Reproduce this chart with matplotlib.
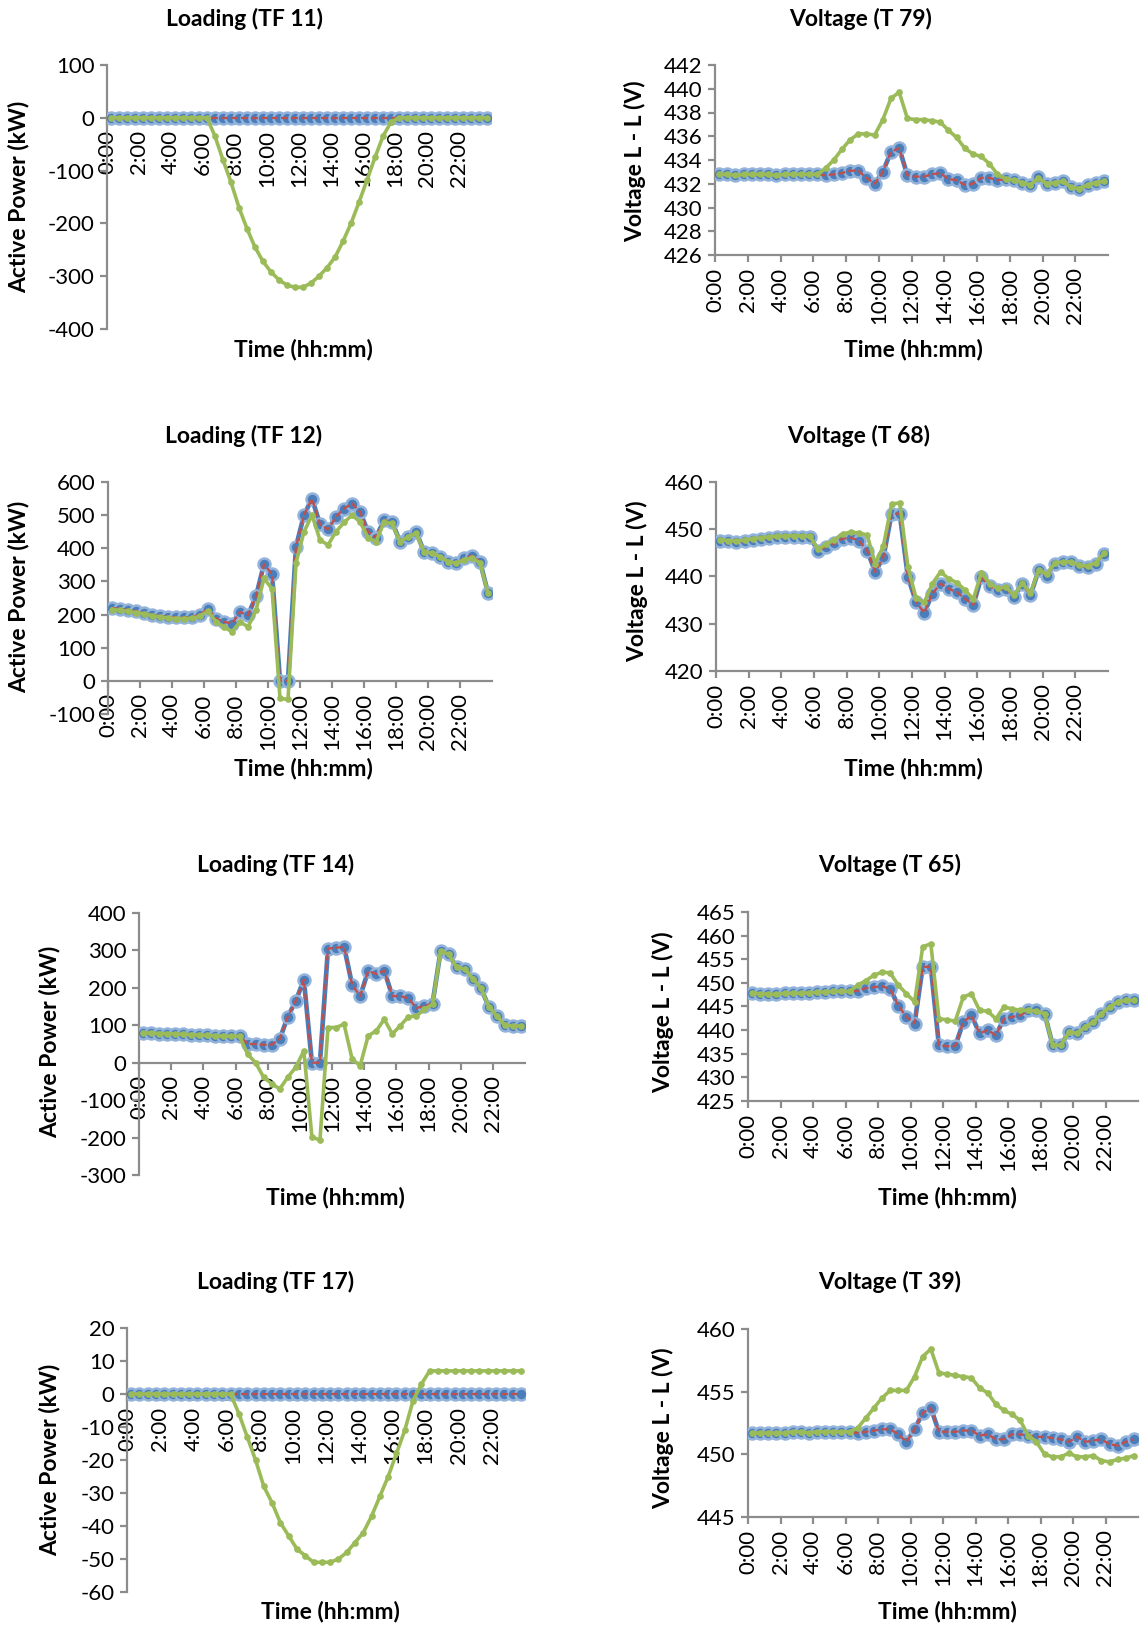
import matplotlib
matplotlib.use("Agg")
import matplotlib.pyplot as plt
import numpy as np

plt.rcParams['font.family'] = ['Lato', 'DejaVu Sans']
plt.rcParams['axes.unicode_minus'] = False
plt.rcParams['lines.scale_dashes'] = False

W, H = 1144, 1627

# half-hour slots 0:00 .. 23:30
slots = list(range(48))
time_labels = ["0:00", "2:00", "4:00", "6:00", "8:00", "10:00",
               "12:00", "14:00", "16:00", "18:00", "20:00", "22:00"]

# ---- Loading (TF 11), kW ----
tf11_blue = [0, 0, 0, 0, 0, 0, 0, 0, 0, 0, 0, 0, 0, 0, 0, 0, 0, 0, 0, 0, 0, 0, 0, 0,
             0, 0, 0, 0, 0, 0, 0, 0, 0, 0, 0, 0, 0, 0, 0, 0, 0, 0, 0, 0, 0, 0, 0, 0]
tf11_red = [0, 0, 0, 0, 0, 0, 0, 0, 0, 0, 0, 0, 0, 0, 0, 0, 0, 0, 0, 0, 0, 0, 0, 0,
            0, 0, 0, 0, 0, 0, 0, 0, 0, 0, 0, 0, 0, 0, 0, 0, 0, 0, 0, 0, 0, 0, 0, 0]
tf11_green = [0, 0, 0, 0, 0, 0, 0, 0, 0, 0, 0, 0, 0,
              -35, -80, -122, -170, -210, -245, -272, -292, -307, -317, -321, -321,
              -313, -300, -284, -264, -234, -200, -160, -118, -75, -35, -8,
              0, 0, 0, 0, 0, 0, 0, 0, 0, 0, 0, 0]

# ---- Voltage (T 79), V ----
t79_blue = [432.8, 432.8, 432.7, 432.8, 432.8, 432.8, 432.8, 432.7, 432.8, 432.8, 432.8, 432.8, 432.8,
            432.7, 432.8, 432.9, 433.1, 433.1, 432.5, 432.0, 433.0, 434.7, 435.0, 432.7, 432.6,
            432.6, 432.8, 432.9, 432.4, 432.3, 431.9, 432.0, 432.5, 432.5, 432.3, 432.4, 432.3,
            432.1, 431.9, 432.6, 432.0, 432.1, 432.2, 431.7, 431.6, 431.9, 432.1, 432.2]
t79_red = list(t79_blue)
t79_green = [432.8, 432.8, 432.7, 432.8, 432.8, 432.8, 432.8, 432.7, 432.8, 432.8, 432.8, 432.8, 432.8,
             433.3, 434.0, 434.9, 435.7, 436.2, 436.2, 436.1, 437.4, 439.2, 439.7, 437.5, 437.4,
             437.4, 437.3, 437.2, 436.5, 435.9, 435.0, 434.5, 434.3, 433.7, 432.8, 432.4, 432.3,
             432.1, 431.9, 432.5, 432.0, 432.1, 432.2, 431.7, 431.6, 431.9, 432.1, 432.2]

# ---- Loading (TF 12), kW ----
tf12_blue = [220, 217, 214, 210, 205, 200, 196, 193, 192, 192, 193, 200, 218,
             188, 178, 173, 208, 198, 255, 352, 322, 0, 0, 405, 500, 550, 472, 457,
             495, 520, 535, 510, 450, 432, 485, 480, 420, 435, 450, 390, 386, 375,
             360, 355, 370, 378, 360, 265]
tf12_red = list(tf12_blue)
tf12_green = [215, 213, 210, 206, 202, 197, 193, 190, 188, 188, 189, 195, 211,
              178, 163, 148, 178, 163, 213, 309, 278, -53, -56, 356, 450, 500, 425, 410,
              450, 478, 500, 480, 432, 420, 478, 475, 420, 435, 445, 390, 385, 375,
              360, 355, 365, 372, 355, 265]

# ---- Voltage (T 68), V ----
t68_blue = [447.6, 447.5, 447.3, 447.5, 447.8, 448.0, 448.2, 448.3, 448.4, 448.4, 448.4, 448.3,
            445.5, 446.3, 447.0, 448.0, 448.2, 447.6, 445.5, 441.0, 444.1, 453.3,
            453.3, 439.9, 434.6, 432.3, 436.4, 438.5, 437.4, 436.7, 435.3, 434.0,
            439.9, 437.9, 437.1, 437.4, 435.7, 438.5, 436.0, 441.3, 440.2, 442.7,
            443.1, 443.1, 442.2, 442.0, 442.7, 444.8]
t68_red = list(t68_blue)
t68_green = [447.8, 447.6, 447.5, 447.7, 448.0, 448.2, 448.4, 448.5, 448.6, 448.6, 448.6, 448.5,
             445.8, 446.8, 447.8, 449.0, 449.4, 449.2, 448.8, 442.7, 446.5, 455.3,
             455.6, 442.0, 435.4, 434.5, 438.5, 441.0, 439.5, 438.7, 437.1, 435.2,
             440.8, 438.5, 437.5, 437.8, 436.0, 438.6, 436.5, 441.3, 440.5, 442.9,
             443.1, 443.1, 442.4, 442.2, 442.9, 444.9]

# ---- Loading (TF 14), kW ----
tf14_blue = [80, 79, 78, 78, 77, 76, 75, 74, 73, 72, 71, 71, 71,
             50, 50, 48, 48, 63, 123, 165, 222, 0, 0, 305, 307, 310,
             208, 178, 245, 237, 246, 178, 178, 172, 146, 152, 158,
             298, 290, 255, 250, 225, 200, 150, 125, 100, 98, 98]
tf14_red = list(tf14_blue)
tf14_green = [80, 79, 78, 78, 77, 76, 75, 74, 73, 72, 71, 71, 71,
              23, 0, -39, -56, -70, -39, -12, 32, -198, -207, 94, 94, 103,
              10, -8, 72, 85, 116, 77, 99, 123, 125, 143, 156,
              298, 290, 255, 250, 225, 200, 150, 125, 100, 98, 98]

# ---- Voltage (T 65), V ----
t65_blue = [447.8, 447.7, 447.6, 447.6, 447.8, 447.8, 447.8, 447.9, 448.0, 448.1, 448.2, 448.2, 448.2,
            448.3, 448.9, 449.1, 449.3, 448.7, 445.2, 442.8, 441.4, 453.4, 453.4,
            436.8, 436.6, 436.6, 441.7, 443.1, 439.3, 440.0, 438.9, 442.4, 442.8,
            443.1, 444.2, 444.2, 443.5, 436.8, 436.8, 439.6, 439.3, 440.7, 441.7,
            443.5, 444.9, 446.0, 446.3, 446.3]
t65_red = list(t65_blue)
t65_green = [447.8, 447.7, 447.6, 447.6, 447.8, 447.8, 447.8, 447.9, 448.0, 448.1, 448.2, 448.2, 448.2,
             449.5, 450.5, 451.6, 452.3, 452.1, 449.5, 447.7, 446.0, 457.6, 458.3,
             442.4, 442.2, 441.9, 447.0, 447.7, 444.2, 444.0, 442.4, 444.9, 444.5,
             444.2, 444.2, 444.0, 443.5, 436.8, 436.8, 439.6, 439.3, 440.7, 441.7,
             443.5, 444.9, 446.0, 446.3, 446.3]

# ---- Loading (TF 17), kW ----
tf17_blue = [0, 0, 0, 0, 0, 0, 0, 0, 0, 0, 0, 0, 0, 0, 0, 0, 0, 0, 0, 0, 0, 0, 0, 0,
             0, 0, 0, 0, 0, 0, 0, 0, 0, 0, 0, 0, 0, 0, 0, 0, 0, 0, 0, 0, 0, 0, 0, 0]
tf17_red = list(tf17_blue)
tf17_green = [0, 0, 0, 0, 0, 0, 0, 0, 0, 0, 0, 0, 0,
              -6, -13, -20, -28, -33, -39, -43, -47, -49, -51, -51, -51,
              -50, -48, -45, -42, -37, -31, -25, -18, -11, -2, 3,
              7, 7, 7, 7, 7, 7, 7, 7, 7, 7, 7, 7]

# ---- Voltage (T 39), V ----
t39_blue = [451.7, 451.7, 451.7, 451.7, 451.7, 451.8, 451.8, 451.7, 451.8, 451.8, 451.8, 451.8, 451.8,
            451.7, 451.8, 451.9, 452.0, 452.0, 451.6, 451.0, 452.0, 453.3, 453.7,
            451.8, 451.8, 451.8, 451.9, 451.9, 451.5, 451.6, 451.2, 451.2, 451.6,
            451.6, 451.5, 451.4, 451.4, 451.3, 451.2, 451.0, 451.4, 451.0, 451.1,
            451.2, 450.8, 450.7, 451.0, 451.2]
t39_red = list(t39_blue)
t39_green = [451.7, 451.7, 451.7, 451.7, 451.7, 451.8, 451.8, 451.7, 451.8, 451.8, 451.8, 451.8, 451.8,
             452.1, 452.9, 453.7, 454.5, 455.1, 455.1, 455.1, 456.2, 457.8, 458.4,
             456.5, 456.4, 456.3, 456.2, 456.1, 455.3, 454.9, 454.0, 453.5, 453.2,
             452.7, 451.5, 451.0, 450.0, 449.8, 449.8, 450.1, 449.8, 449.8, 449.9,
             449.5, 449.4, 449.6, 449.7, 449.9]

BLUE = '#4A7EBB'
BLUE_EDGE = '#93B3DB'
RED = '#C0504D'
GREEN = '#9BBB59'
AXIS = '#8C8C8C'
FS_TICK = 16
FS_TEXT = 16.5

fig = plt.figure(figsize=(W / 100, H / 100), dpi=100)


def fx(x):
    return x / W


def fy(y):
    return 1 - y / H


def panel(rect, blue, red, green, ylim, ystep, zero_axis,
          title, title_xy, ylabel, ylabel_xy, xlabel_xy):
    left, right, top, bottom = rect
    ax = fig.add_axes([fx(left), fy(bottom), (right - left) / W, (bottom - top) / H])
    ax.patch.set_alpha(0)
    for side in ('top', 'right'):
        ax.spines[side].set_visible(False)
    for side in ('left', 'bottom'):
        ax.spines[side].set_color(AXIS)
        ax.spines[side].set_linewidth(1.6)
    if zero_axis:
        # horizontal axis crosses the vertical one at zero
        ax.spines['bottom'].set_position(('data', 0))

    xs = [s + 0.5 for s in slots]
    ax.plot(xs, blue, color=BLUE, lw=3.4, marker='o', ms=8.6, mfc=BLUE,
            mec=BLUE_EDGE, mew=1.8, zorder=3, solid_joinstyle='round')
    ax.plot(xs, red, color=RED, lw=1.7, dashes=(5, 2.2), zorder=4)
    ax.plot(xs, green, color=GREEN, lw=2.6, marker='o', ms=3.8, mfc=GREEN,
            mec=GREEN, zorder=5, solid_joinstyle='round')
    ax.set_xlim(0, 48)
    ax.set_ylim(*ylim)
    yt = np.arange(ylim[0], ylim[1] + ystep / 2, ystep)
    ax.set_yticks(yt)
    ax.set_yticklabels([str(int(v)) for v in yt])
    ax.set_xticks(list(range(0, 48, 4)))
    ax.set_xticklabels(time_labels)
    ax.tick_params(axis='both', direction='out', length=5, width=1.6,
                   color=AXIS, labelsize=FS_TICK, labelcolor='black', pad=4)
    ax.tick_params(axis='x', labelrotation=90)
    fig.text(fx(title_xy[0]), fy(title_xy[1]), title, ha='center', va='center',
             fontsize=FS_TEXT, fontweight='bold')
    fig.text(fx(ylabel_xy[0]), fy(ylabel_xy[1]), ylabel, ha='center', va='center',
             rotation=90, fontsize=FS_TEXT, fontweight='bold')
    fig.text(fx(xlabel_xy[0]), fy(xlabel_xy[1]), "Time (hh:mm)", ha='center',
             va='center', fontsize=FS_TEXT, fontweight='bold')
    return ax


POWER = "Active Power (kW)"
VOLT = "Voltage L - L (V)"

panel((107, 491, 65, 329), tf11_blue, tf11_red, tf11_green, (-400, 100), 100, True,
      "Loading (TF 11)", (244, 19), POWER, (19, 197), (303, 350))
panel((715, 1108, 65, 255), t79_blue, t79_red, t79_green, (426, 442), 2, False,
      "Voltage (T 79)", (861, 19), VOLT, (635, 161), (913, 350))
panel((108, 492, 482, 714), tf12_blue, tf12_red, tf12_green, (-100, 600), 100, True,
      "Loading (TF 12)", (244, 436), POWER, (19, 597), (303, 768))
panel((716, 1108, 482, 671), t68_blue, t68_red, t68_green, (420, 460), 10, False,
      "Voltage (T 68)", (859, 436), VOLT, (637, 581), (913, 768))
panel((139, 525, 913, 1175), tf14_blue, tf14_red, tf14_green, (-300, 400), 100, True,
      "Loading (TF 14)", (276, 865), POWER, (50, 1042), (335, 1197))
panel((748, 1138, 912, 1101), t65_blue, t65_red, t65_green, (425, 465), 5, False,
      "Voltage (T 65)", (890, 865), VOLT, (663, 1012), (947, 1197))
panel((127, 525, 1328, 1592), tf17_blue, tf17_red, tf17_green, (-60, 20), 10, True,
      "Loading (TF 17)", (276, 1282), POWER, (50, 1460), (330, 1612))
panel((748, 1138, 1329, 1517), t39_blue, t39_red, t39_green, (445, 460), 5, False,
      "Voltage (T 39)", (890, 1282), VOLT, (663, 1428), (947, 1612))

fig.savefig("out.png", dpi=100)
